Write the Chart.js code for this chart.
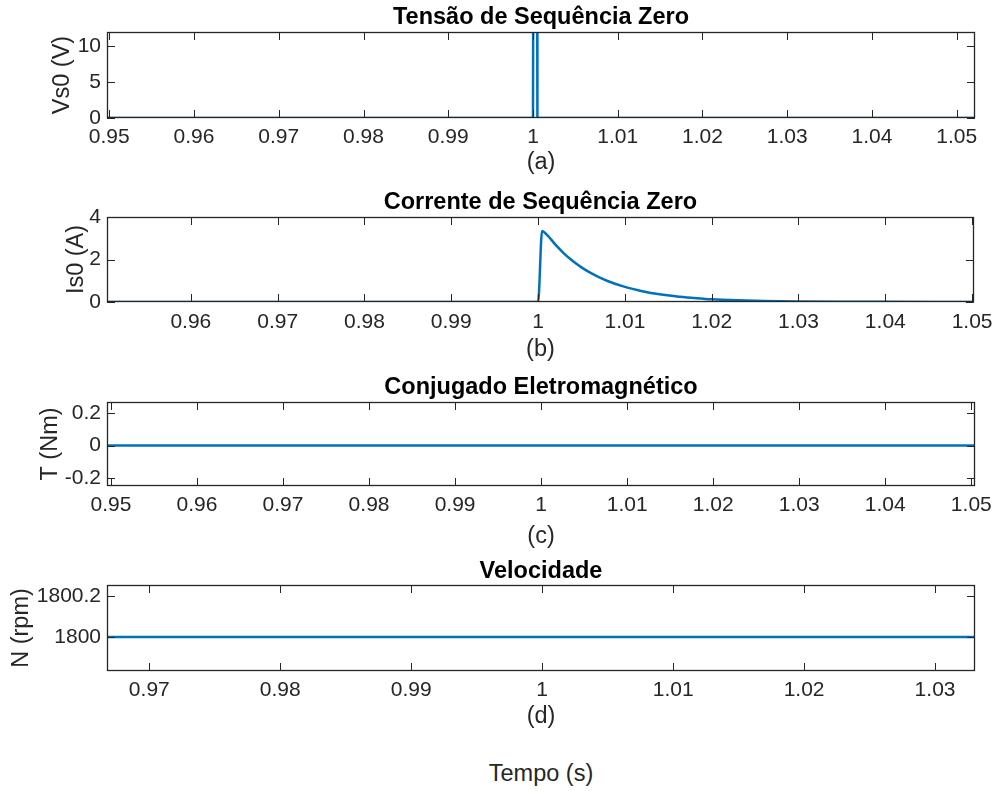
<!DOCTYPE html>
<html>
<head>
<meta charset="utf-8">
<script src="https://cdn.jsdelivr.net/npm/chart.js@4.4.1/dist/chart.umd.min.js"></script>
<style>
  html, body { margin: 0; background: #fff; }
  #wrap { position: relative; width: 1000px; height: 791px; overflow: hidden; }
  canvas { position: absolute; left: 0; }
  #tempo {
    position: absolute; left: 107px; width: 868px; top: 760px;
    text-align: center; line-height: 30px; color: #262626;
    font: 23.5px "Liberation Sans", Arial, sans-serif;
  }
</style>
</head>
<body>
<div id="wrap">
  <canvas id="cA" width="1000" height="185" style="top:0px"></canvas>
  <canvas id="cB" width="1000" height="185" style="top:185px"></canvas>
  <canvas id="cC" width="1000" height="183" style="top:370px"></canvas>
  <canvas id="cD" width="1000" height="197" style="top:553px"></canvas>
  <div id="tempo">Tempo (s)</div>
</div>
<script>
// ---- dados ----

// (a) tensão de sequência zero — pulso em t = 1 s (passa do topo do eixo)
const tA = [0.9497, 1.0, 1.00002, 1.0005, 1.00052, 1.0522];
const vA = [0, 0, 14, 14, 0, 0];
const xTicksA = [0.95, 0.96, 0.97, 0.98, 0.99, 1.0, 1.01, 1.02, 1.03, 1.04, 1.05];
const yTicksA = [0, 5, 10];

// (b) corrente de sequência zero
const tB = [0.9503, 0.9998, 1.0, 1.00046, 1.001, 1.002, 1.003, 1.004, 1.005, 1.006, 1.007, 1.008,
            1.01, 1.012, 1.014, 1.016, 1.018, 1.02, 1.023, 1.026, 1.03, 1.035, 1.04, 1.0502];
const vB = [0, 0, 0, 3.34, 3.17, 2.7, 2.28, 1.93, 1.63, 1.38, 1.17, 0.99,
            0.71, 0.51, 0.36, 0.26, 0.19, 0.13, 0.08, 0.05, 0.025, 0.012, 0.006, 0];
const xTicksB = [0.96, 0.97, 0.98, 0.99, 1.0, 1.01, 1.02, 1.03, 1.04, 1.05];
const yTicksB = [0, 2, 4];

// (c) conjugado eletromagnético
const tC = [0.9495, 0.97, 1.0, 1.03, 1.0505];
const vC = [0, 0, 0, 0, 0];
const xTicksC = [0.95, 0.96, 0.97, 0.98, 0.99, 1.0, 1.01, 1.02, 1.03, 1.04, 1.05];
const yTicksC = [-0.2, 0, 0.2];

// (d) velocidade
const tD = [0.9668, 0.98, 1.0, 1.02, 1.0331];
const vD = [1800, 1800, 1800, 1800, 1800];
const xTicksD = [0.97, 0.98, 0.99, 1.0, 1.01, 1.02, 1.03];
const yTicksD = [1800, 1800.2];

const FONT = "'Liberation Sans', Arial, Helvetica, sans-serif";
const AXIS = "#262626";
const LINE = "#0072BD";
const TICK_SIZE = 21;
const LABEL_SIZE = 23.5;
const HALF_TICK = TICK_SIZE * 1.2 / 2;
const HALF_LABEL = LABEL_SIZE * 1.2 / 2;

// caixa e marcas para dentro, como no MATLAB
const matlabBox = {
  id: "matlabBox",
  afterDatasetsDraw(chart) {
    const { ctx, chartArea: a, scales: { x, y } } = chart;
    const L = 8;
    ctx.save();
    ctx.strokeStyle = AXIS;
    ctx.lineWidth = 1;
    ctx.beginPath();
    x.ticks.forEach((t) => {
      const px = Math.round(x.getPixelForValue(t.value)) + 0.5;
      ctx.moveTo(px, a.bottom); ctx.lineTo(px, a.bottom - L);
      ctx.moveTo(px, a.top);    ctx.lineTo(px, a.top + L);
    });
    y.ticks.forEach((t) => {
      const py = Math.round(y.getPixelForValue(t.value)) + 0.5;
      ctx.moveTo(a.left, py);  ctx.lineTo(a.left + L, py);
      ctx.moveTo(a.right, py); ctx.lineTo(a.right - L, py);
    });
    ctx.stroke();
    ctx.lineWidth = 1.3;
    ctx.strokeRect(Math.round(a.left) + 0.5, Math.round(a.top) + 0.5,
                   Math.round(a.width) - 1, Math.round(a.height) - 1);
    ctx.restore();
  },
};

const fmt = (v) => String(parseFloat(Number(v).toFixed(4)));

function makePanel(id, p) {
  const H = document.getElementById(id).height;
  const plotTop = 32;
  const xAxisH = p.xLabelY - p.plotBottom + HALF_LABEL;
  const tickPad = p.tickY - p.plotBottom - HALF_TICK;

  return new Chart(document.getElementById(id), {
    type: "line",
    data: {
      datasets: [{
        data: p.t.map((t, i) => ({ x: t, y: p.v[i] })),
        borderColor: LINE,
        borderWidth: 2.5,
        pointRadius: 0,
        fill: false,
        tension: 0,
        cubicInterpolationMode: p.smooth ? "monotone" : "default",
      }],
    },
    options: {
      responsive: false,
      animation: false,
      events: [],
      layout: {
        autoPadding: false,
        padding: { top: 0, left: 0, right: 25, bottom: H - p.plotBottom - xAxisH },
      },
      plugins: {
        legend: { display: false },
        tooltip: { enabled: false },
        title: {
          display: true,
          text: p.title,
          fullSize: false,
          color: "#000",
          font: { family: FONT, size: LABEL_SIZE, weight: "bold" },
          padding: { top: p.titleY - HALF_LABEL, bottom: plotTop - p.titleY - HALF_LABEL },
        },
      },
      scales: {
        x: {
          type: "linear",
          min: p.xMin,
          max: p.xMax,
          afterBuildTicks: (s) => { s.ticks = p.xTicks.map((v) => ({ value: v })); },
          afterFit: (s) => { s.height = xAxisH; },
          grid: { display: false, drawTicks: false },
          border: { display: false },
          ticks: {
            autoSkip: false, maxRotation: 0, padding: tickPad,
            color: AXIS, font: { family: FONT, size: TICK_SIZE },
            callback: fmt,
          },
          title: {
            display: true, text: p.xLabel, color: AXIS,
            font: { family: FONT, size: LABEL_SIZE }, padding: 0,
          },
        },
        y: {
          min: p.yMin,
          max: p.yMax,
          afterBuildTicks: (s) => { s.ticks = p.yTicks.map((v) => ({ value: v })); },
          afterFit: (s) => { s.width = 107; },
          grid: { display: false, drawTicks: false },
          border: { display: false },
          ticks: {
            autoSkip: false, padding: 6,
            color: AXIS, font: { family: FONT, size: TICK_SIZE },
            callback: fmt,
          },
          title: {
            display: true, text: p.yLabel, color: AXIS,
            font: { family: FONT, size: LABEL_SIZE },
            padding: { top: p.yLabelX - HALF_LABEL, bottom: 0 },
          },
        },
      },
    },
    plugins: [matlabBox],
  });
}

makePanel("cA", {
  t: tA, v: vA, xTicks: xTicksA, yTicks: yTicksA,
  xMin: 0.94973, xMax: 1.05216, yMin: 0, yMax: 12,
  title: "Tensão de Sequência Zero", yLabel: "Vs0 (V)", xLabel: "(a)",
  plotBottom: 118, titleY: 18, tickY: 137, xLabelY: 163, yLabelX: 63,
});

makePanel("cB", {
  t: tB, v: vB, xTicks: xTicksB, yTicks: yTicksB, smooth: true,
  xMin: 0.95034, xMax: 1.0502, yMin: 0, yMax: 4,
  title: "Corrente de Sequência Zero", yLabel: "Is0 (A)", xLabel: "(b)",
  plotBottom: 117, titleY: 18, tickY: 137, xLabelY: 165, yLabelX: 77,
});

makePanel("cC", {
  t: tC, v: vC, xTicks: xTicksC, yTicks: yTicksC,
  xMin: 0.94954, xMax: 1.05043, yMin: -0.25, yMax: 0.27,
  title: "Conjugado Eletromagnético", yLabel: "T (Nm)", xLabel: "(c)",
  plotBottom: 116, titleY: 18, tickY: 135, xLabelY: 166.5, yLabelX: 51,
});

makePanel("cD", {
  t: tD, v: vD, xTicks: xTicksD, yTicks: yTicksD,
  xMin: 0.96677, xMax: 1.03305, yMin: 1799.833, yMax: 1800.254,
  title: "Velocidade", yLabel: "N (rpm)", xLabel: "(d)",
  plotBottom: 118, titleY: 19, tickY: 137, xLabelY: 164, yLabelX: 22,
});
</script>
</body>
</html>
